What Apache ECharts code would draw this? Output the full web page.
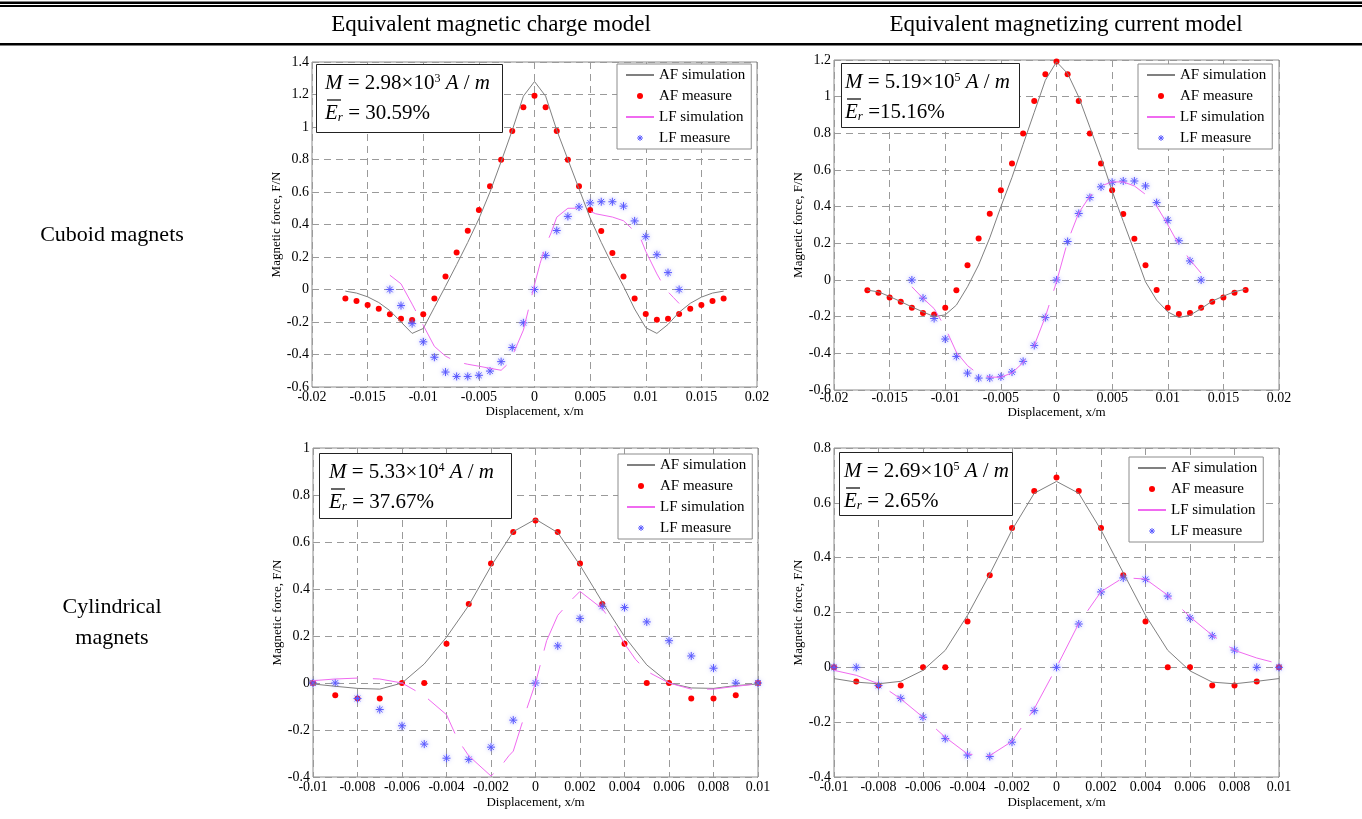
<!DOCTYPE html>
<html>
<head>
<meta charset="UTF-8">
<title>Magnetic force: charge model vs current model</title>
<script src="https://cdn.jsdelivr.net/npm/echarts@6/dist/echarts.min.js"></script>
<style>
html,body{margin:0;padding:0;background:#fff;}
#main{width:1362px;height:819px;}
</style>
</head>
<body>
<div id="main"></div>
<script>
// ---- data ----
// cuboid magnets, displacement in m
var cubX = [-0.017,-0.016,-0.015,-0.014,-0.013,-0.012,-0.011,-0.010,-0.009,-0.008,-0.007,-0.006,-0.005,-0.004,-0.003,-0.002,-0.001,0,
            0.001,0.002,0.003,0.004,0.005,0.006,0.007,0.008,0.009,0.010,0.011,0.012,0.013,0.014,0.015,0.016,0.017];
var cubAFMeasure = [-0.056,-0.07,-0.096,-0.119,-0.152,-0.18,-0.188,-0.152,-0.056,0.08,0.227,0.361,0.489,0.635,0.799,0.976,1.122,1.192,
                    1.122,0.976,0.799,0.635,0.489,0.36,0.225,0.08,-0.055,-0.151,-0.186,-0.18,-0.151,-0.119,-0.096,-0.07,-0.055];
var chargeCubAFSim = [-0.01,-0.022,-0.045,-0.08,-0.13,-0.2,-0.27,-0.24,-0.11,0.02,0.153,0.29,0.435,0.6,0.787,0.98,1.19,1.28,
                      1.19,0.98,0.8,0.62,0.44,0.29,0.15,0.02,-0.12,-0.235,-0.27,-0.215,-0.14,-0.085,-0.047,-0.022,-0.01];
var currentCubAFSim = [-0.055,-0.065,-0.09,-0.118,-0.147,-0.174,-0.2,-0.19,-0.137,-0.037,0.082,0.23,0.4,0.56,0.74,0.915,1.09,1.19,
                       1.126,0.998,0.833,0.668,0.485,0.32,0.156,-0.01,-0.11,-0.174,-0.205,-0.192,-0.156,-0.115,-0.088,-0.064,-0.05];

var cubLFX = [-0.013,-0.012,-0.011,-0.010,-0.009,-0.008,-0.007,-0.006,-0.005,-0.004,-0.003,-0.002,-0.001,0,
              0.001,0.002,0.003,0.004,0.005,0.006,0.007,0.008,0.009,0.010,0.011,0.012,0.013];
var cubLFMeasure = [0,-0.099,-0.21,-0.322,-0.417,-0.508,-0.535,-0.535,-0.528,-0.502,-0.444,-0.357,-0.205,0,
                    0.21,0.363,0.45,0.508,0.533,0.54,0.54,0.513,0.422,0.325,0.214,0.104,0];
var currentCubLFSim = [-0.037,-0.1,-0.156,-0.26,-0.394,-0.467,-0.515,-0.53,-0.53,-0.507,-0.45,-0.357,-0.2,-0.01,
                       0.21,0.366,0.458,0.513,0.535,0.535,0.513,0.467,0.403,0.302,0.192,0.11,0.037];

var chargeCubLFSimX = [-0.013,-0.012,-0.011,-0.010,-0.009,-0.008,-0.007,-0.006,-0.005,-0.004,-0.003,-0.0025,-0.002,-0.0015,-0.001,-0.0005,0,
                       0.0005,0.001,0.0015,0.002,0.003,0.004,0.0045,0.0055,0.007,0.008,0.009,0.0095,0.010,0.011,0.0118,0.0125,0.013];
var chargeCubLFSim = [0.088,0.035,-0.09,-0.22,-0.35,-0.41,-0.445,-0.46,-0.472,-0.485,-0.497,-0.465,-0.41,-0.33,-0.25,-0.11,0.03,
                      0.16,0.27,0.35,0.445,0.5,0.5,0.497,0.466,0.446,0.423,0.358,0.32,0.235,0.096,0,-0.05,-0.086];

// cylindrical magnets
var cylX = [-0.010,-0.009,-0.008,-0.007,-0.006,-0.005,-0.004,-0.003,-0.002,-0.001,0,
            0.001,0.002,0.003,0.004,0.005,0.006,0.007,0.008,0.009,0.010];
var cylAFMeasure = [0,-0.052,-0.066,-0.066,0,0,0.167,0.336,0.508,0.643,0.692,0.643,0.508,0.336,0.167,0,0,-0.066,-0.066,-0.052,0];
var cylLFMeasure = [0,0,-0.066,-0.113,-0.182,-0.26,-0.32,-0.325,-0.273,-0.158,0,0.158,0.275,0.326,0.321,0.26,0.18,0.115,0.063,0,0];
var chargeCylAFSim = [-0.004,-0.014,-0.023,-0.026,0,0.081,0.195,0.33,0.497,0.644,0.697,0.64,0.501,0.345,0.198,0.077,0,-0.021,-0.023,-0.011,-0.004];
var currentCylAFSim = [-0.041,-0.054,-0.06,-0.051,-0.011,0.062,0.19,0.34,0.501,0.635,0.678,0.635,0.501,0.345,0.19,0.062,-0.013,-0.054,-0.06,-0.051,-0.041];

var chargeCylLFSimX = [-0.010,-0.009,-0.008,-0.007,-0.006,-0.005,-0.004,-0.0035,-0.003,-0.002,-0.0016,-0.0012,-0.001,-0.0005,0,
                       0.0005,0.001,0.0016,0.002,0.003,0.0035,0.004,0.0045,0.005,0.006,0.007,0.008,0.009,0.010];
var chargeCylLFSim = [0.01,0.017,0.021,0.017,0,-0.054,-0.135,-0.24,-0.31,-0.396,-0.36,-0.31,-0.29,-0.14,0,
                      0.18,0.288,0.352,0.39,0.316,0.252,0.167,0.1,0.05,0,-0.026,-0.026,-0.014,-0.004];
var currentCylLFSimX = [-0.010,-0.009,-0.008,-0.007,-0.006,-0.005,-0.004,-0.0035,-0.003,-0.002,-0.001,0,
                        0.001,0.002,0.003,0.004,0.005,0.006,0.007,0.008,0.009,0.010];
var currentCylLFSim = [-0.011,-0.029,-0.06,-0.115,-0.182,-0.255,-0.316,-0.32,-0.322,-0.27,-0.151,0,
                       0.16,0.276,0.327,0.322,0.263,0.184,0.117,0.062,0.034,0.013];

// fitted M and mean relative error shown in each panel
var annM = ['2.98', '5.19', '5.33', '2.69'];
var annExp = ['3', '5', '4', '5'];
var annErr = ['= 30.59%', '=15.16%', '= 37.67%', '= 2.65%'];

// ---- layout ----
var FONT = 'Liberation Serif';
var grids = [
  {left: 312, top: 62, width: 445, height: 325},
  {left: 834, top: 60, width: 445, height: 330},
  {left: 313, top: 448, width: 445, height: 329},
  {left: 834, top: 448, width: 445, height: 329}
];
var xRange = [[-0.02, 0.02, 0.005], [-0.02, 0.02, 0.005], [-0.01, 0.01, 0.002], [-0.01, 0.01, 0.002]];
var yRange = [[-0.6, 1.4, 0.2], [-0.6, 1.2, 0.2], [-0.4, 1, 0.2], [-0.4, 0.8, 0.2]];
var xNameGap = [18, 15, 19, 19];
var xLabelMargin = [3, 1, 3, 3];

function zip(xs, ys) {
  return xs.map(function (x, i) { return [x, ys[i]]; });
}
function tickFmt(v) {
  return String(parseFloat(v.toFixed(4)));
}

var panelData = [
  {afSim: zip(cubX, chargeCubAFSim), afMeas: zip(cubX, cubAFMeasure), lfSim: zip(chargeCubLFSimX, chargeCubLFSim), lfMeas: zip(cubLFX, cubLFMeasure)},
  {afSim: zip(cubX, currentCubAFSim), afMeas: zip(cubX, cubAFMeasure), lfSim: zip(cubLFX, currentCubLFSim), lfMeas: zip(cubLFX, cubLFMeasure)},
  {afSim: zip(cylX, chargeCylAFSim), afMeas: zip(cylX, cylAFMeasure), lfSim: zip(chargeCylLFSimX, chargeCylLFSim), lfMeas: zip(cylX, cylLFMeasure)},
  {afSim: zip(cylX, currentCylAFSim), afMeas: zip(cylX, cylAFMeasure), lfSim: zip(currentCylLFSimX, currentCylLFSim), lfMeas: zip(cylX, cylLFMeasure)}
];

var starPath = 'path://M5,0L5,10M0,5L10,5M1.5,1.5L8.5,8.5M8.5,1.5L1.5,8.5';
var starColor = '#5a5aff';

var xAxes = [], yAxes = [], series = [], gridOpts = [];
grids.forEach(function (g, i) {
  gridOpts.push({
    left: g.left, top: g.top, width: g.width, height: g.height,
    show: true, borderColor: '#8c8c8c', borderWidth: 1,
    outerBoundsMode: 'none', containLabel: false
  });
  xAxes.push({
    type: 'value', gridIndex: i,
    min: xRange[i][0], max: xRange[i][1], interval: xRange[i][2],
    axisLine: {show: false}, axisTick: {show: false},
    splitLine: {show: true, lineStyle: {color: '#9a9a9a', width: 1, type: [7, 5]}},
    axisLabel: {color: '#000', fontFamily: FONT, fontSize: 14, margin: xLabelMargin[i], formatter: tickFmt},
    name: 'Displacement, x/m', nameLocation: 'middle', nameGap: xNameGap[i],
    nameTextStyle: {color: '#000', fontFamily: FONT, fontSize: 13}
  });
  yAxes.push({
    type: 'value', gridIndex: i,
    min: yRange[i][0], max: yRange[i][1], interval: yRange[i][2],
    axisLine: {show: false}, axisTick: {show: false},
    splitLine: {show: true, lineStyle: {color: '#9a9a9a', width: 1, type: [7, 5]}},
    axisLabel: {color: '#000', fontFamily: FONT, fontSize: 14, margin: 3, formatter: tickFmt},
    name: 'Magnetic force, F/N', nameLocation: 'middle', nameGap: 23,
    nameTextStyle: {color: '#000', fontFamily: FONT, fontSize: 13}
  });
  var d = panelData[i];
  series.push({
    name: 'AF simulation', type: 'line', xAxisIndex: i, yAxisIndex: i,
    data: d.afSim, symbol: 'none', silent: true,
    lineStyle: {color: '#808080', width: 1}, itemStyle: {color: '#808080'}
  });
  series.push({
    name: 'AF measure', type: 'scatter', xAxisIndex: i, yAxisIndex: i,
    data: d.afMeas, symbol: 'circle', symbolSize: 6,
    itemStyle: {color: '#ff0000', opacity: 1}
  });
  series.push({
    name: 'LF simulation', type: 'line', xAxisIndex: i, yAxisIndex: i,
    data: d.lfSim, symbol: 'none', silent: true,
    lineStyle: {color: '#f06af0', width: 1, type: [45, 15]}, itemStyle: {color: '#f06af0'}
  });
  series.push({
    name: 'LF measure', type: 'scatter', xAxisIndex: i, yAxisIndex: i,
    data: d.lfMeas, symbol: starPath, symbolSize: 8,
    itemStyle: {color: starColor, borderColor: starColor, borderWidth: 1,
                shadowBlur: 4, shadowColor: 'rgba(130,130,255,0.7)', opacity: 1}
  });
});

var legendPos = [[617, 64], [1138, 64], [618, 454], [1129, 457]];
var legends = legendPos.map(function (p) {
  return {
    left: p[0], top: p[1], orient: 'vertical',
    data: [
      {name: 'AF simulation', itemStyle: {opacity: 0}},
      'AF measure',
      {name: 'LF simulation', itemStyle: {opacity: 0}},
      {name: 'LF measure', itemStyle: {borderColor: starColor, borderWidth: 1}}
    ],
    selectedMode: false,
    backgroundColor: '#fff', borderColor: '#8c8c8c', borderWidth: 1,
    padding: [3, 6, 3, 8], itemGap: 5, itemWidth: 28, itemHeight: 6,
    textStyle: {color: '#000', fontFamily: FONT, fontSize: 15, lineHeight: 16}
  };
});

// table rules, headings and formula boxes
var graphics = [
  {type: 'rect', shape: {x: 0, y: 1.5, width: 1362, height: 2.5}, style: {fill: '#000'}, z: 100},
  {type: 'rect', shape: {x: 0, y: 5, width: 1362, height: 2}, style: {fill: '#000'}, z: 100},
  {type: 'rect', shape: {x: 0, y: 43, width: 1362, height: 2.5}, style: {fill: '#000'}, z: 100}
];
function addText(txt, x, y, size) {
  graphics.push({
    type: 'text', z: 100,
    style: {text: txt, x: x, y: y, fill: '#000', font: size + 'px "' + FONT + '"',
            align: 'center', verticalAlign: 'middle', textAlign: 'center', textVerticalAlign: 'middle'}
  });
}
addText('Equivalent magnetic charge model', 491, 25, 23);
addText('Equivalent magnetizing current model', 1066, 25, 23);
addText('Cuboid magnets', 112, 235, 22);
addText('Cylindrical', 112, 607, 22);
addText('magnets', 112, 638, 22);

var boxes = [
  {x: 316, y: 64, w: 186, h: 68, tx: 325},
  {x: 841, y: 63, w: 178, h: 64, tx: 845},
  {x: 319, y: 453, w: 192, h: 65, tx: 329},
  {x: 839, y: 452, w: 173, h: 63, tx: 844}
];
var rich = {
  i: {fontStyle: 'italic', fontFamily: FONT, fontSize: 21, lineHeight: 22},
  n: {fontFamily: FONT, fontSize: 21, lineHeight: 22},
  sup: {fontFamily: FONT, fontSize: 12, lineHeight: 12, verticalAlign: 'top'},
  sub: {fontStyle: 'italic', fontFamily: FONT, fontSize: 13, lineHeight: 13, verticalAlign: 'bottom'}
};
boxes.forEach(function (b, i) {
  graphics.push({
    type: 'rect', z: 100,
    shape: {x: b.x + 0.5, y: b.y + 0.5, width: b.w, height: b.h},
    style: {fill: '#fff', stroke: '#222', lineWidth: 1}
  });
  graphics.push({
    type: 'text', z: 101,
    style: {
      text: '{i|M}{n| = ' + annM[i] + '×10}{sup|' + annExp[i] + '}{n| }{i|A}{n| / }{i|m}',
      rich: rich, x: b.tx, y: b.y + 19.5, fill: '#000',
      font: '21px "' + FONT + '"', verticalAlign: 'middle', textVerticalAlign: 'middle'
    }
  });
  graphics.push({
    type: 'text', z: 101,
    style: {
      text: '{i|E}{sub|r}{n| ' + annErr[i] + '}',
      rich: rich, x: b.tx, y: b.y + 49, fill: '#000',
      font: '21px "' + FONT + '"', verticalAlign: 'middle', textVerticalAlign: 'middle'
    }
  });
  graphics.push({
    type: 'line', z: 101,
    shape: {x1: b.tx + 2, y1: b.y + 36, x2: b.tx + 16, y2: b.y + 36},
    style: {stroke: '#000', lineWidth: 1.2}
  });
});

var chart = echarts.init(document.getElementById('main'), null, {renderer: 'canvas'});
chart.setOption({
  animation: false,
  backgroundColor: '#fff',
  textStyle: {fontFamily: FONT},
  grid: gridOpts,
  xAxis: xAxes,
  yAxis: yAxes,
  legend: legends,
  series: series,
  graphic: {elements: graphics}
});
</script>
</body>
</html>
